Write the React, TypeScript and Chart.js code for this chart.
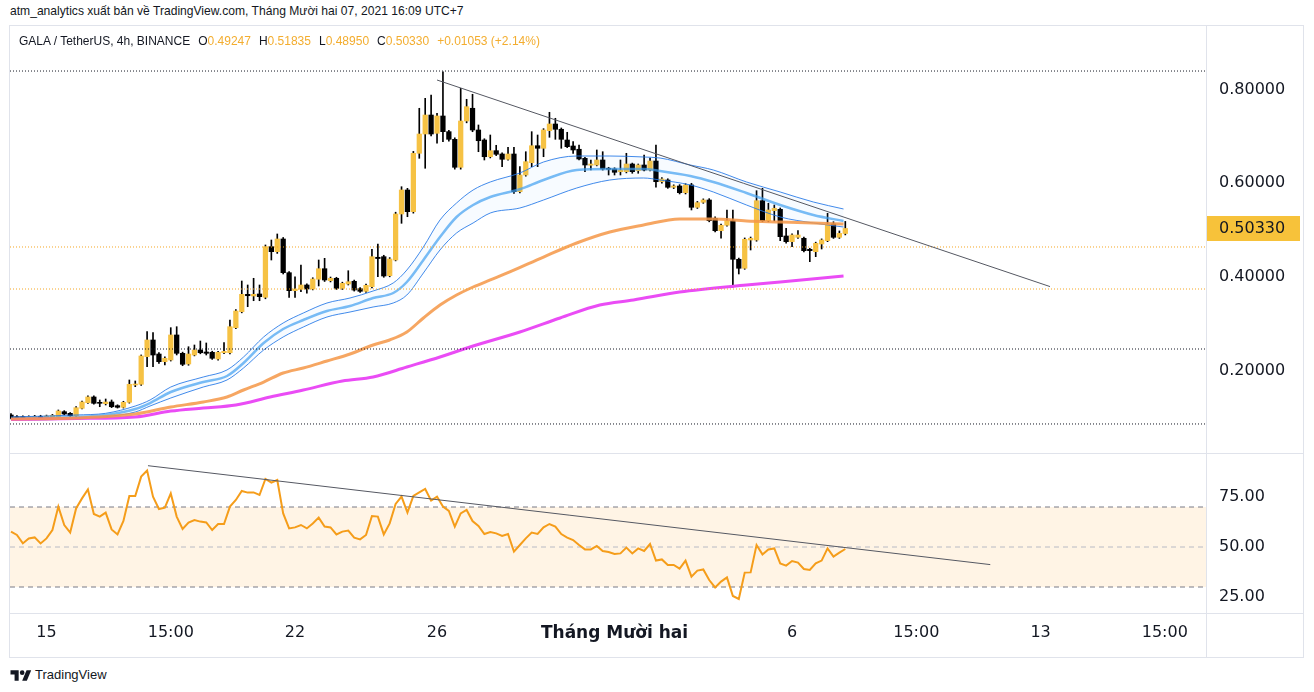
import React, { useEffect, useRef } from "react";
import { Chart, registerables } from "chart.js";
Chart.register(...registerables);

// ---- Candles (4h, GALA/USDT), index 0 = Nov 14 03:00 UTC+7 ----
const opens = [
  0.1047, 0.1011, 0.1011, 0.0968, 0.0989, 0.1011, 0.0983, 0.0983, 0.1011, 0.1118,
  0.1083, 0.1032, 0.1190, 0.1310, 0.1432, 0.1310, 0.1289, 0.1325, 0.1246, 0.1212,
  0.1318, 0.1688, 0.1703, 0.2293, 0.2650, 0.2350, 0.2186, 0.2222, 0.2757, 0.2365,
  0.2137, 0.2329, 0.2436, 0.2393, 0.2387, 0.2244, 0.2378, 0.2378, 0.2912, 0.3254,
  0.3626, 0.3590, 0.3633, 0.3562, 0.4643, 0.4537, 0.4808, 0.4088, 0.3703, 0.3733,
  0.3825, 0.3739, 0.3947, 0.4173, 0.3917, 0.3968, 0.3754, 0.3846, 0.3904, 0.3746,
  0.3690, 0.3789, 0.4417, 0.4430, 0.4024, 0.4359, 0.5342, 0.5855, 0.5391, 0.6639,
  0.7051, 0.7457, 0.7066, 0.7436, 0.7101, 0.6938, 0.6340, 0.7329, 0.7601, 0.7137,
  0.6923, 0.6566, 0.6695, 0.6624, 0.6511, 0.6624, 0.5819, 0.6175, 0.6438, 0.6801,
  0.6746, 0.7122, 0.7265, 0.7152, 0.6923, 0.6795, 0.6725, 0.6532, 0.6383, 0.6389,
  0.6496, 0.6319, 0.6304, 0.6246, 0.6246, 0.6410, 0.6267, 0.6389, 0.6282, 0.6474,
  0.6032, 0.6068, 0.5913, 0.5940, 0.5797, 0.5962, 0.5485, 0.5592, 0.5641, 0.5250,
  0.4985, 0.5101, 0.5199, 0.4374, 0.4182, 0.4786, 0.4786, 0.5626, 0.5199, 0.5413,
  0.5442, 0.4872, 0.4750, 0.4844, 0.4823, 0.4588, 0.4537, 0.4701, 0.4772, 0.5128,
  0.4844, 0.49247,
];
const highs = [
  0.1075, 0.1036, 0.1030, 0.1030, 0.1040, 0.1041, 0.1045, 0.1060, 0.1154, 0.1140,
  0.1100, 0.1225, 0.1345, 0.1459, 0.1455, 0.1368, 0.1389, 0.1368, 0.1265, 0.1340,
  0.1795, 0.1774, 0.2330, 0.2827, 0.2806, 0.2380, 0.2290, 0.2913, 0.2934, 0.2390,
  0.2506, 0.2543, 0.2628, 0.2586, 0.2410, 0.2410, 0.2592, 0.3077, 0.3300, 0.3910,
  0.3825, 0.3968, 0.3825, 0.4680, 0.4786, 0.4915, 0.4840, 0.4110, 0.4002, 0.4252,
  0.3850, 0.3980, 0.4359, 0.4395, 0.3995, 0.3990, 0.3885, 0.4130, 0.3930, 0.3770,
  0.3845, 0.4588, 0.4701, 0.4460, 0.4410, 0.5380, 0.5925, 0.5890, 0.6680, 0.7601,
  0.7814, 0.7885, 0.7494, 0.8380, 0.7130, 0.6970, 0.8028, 0.7793, 0.7900, 0.7244,
  0.6950, 0.7030, 0.6810, 0.6650, 0.6767, 0.6767, 0.6353, 0.6673, 0.7101, 0.7030,
  0.7165, 0.7515, 0.7387, 0.7180, 0.7088, 0.6887, 0.6816, 0.6555, 0.6496, 0.6710,
  0.6673, 0.6340, 0.6330, 0.6496, 0.6639, 0.6430, 0.6410, 0.6603, 0.6539, 0.6816,
  0.6120, 0.6095, 0.5965, 0.5970, 0.5990, 0.5998, 0.5610, 0.5665, 0.5670, 0.5280,
  0.5125, 0.5428, 0.5428, 0.4400, 0.4830, 0.4850, 0.5840, 0.5891, 0.5571, 0.5534,
  0.5470, 0.5036, 0.4920, 0.4985, 0.4850, 0.4610, 0.4740, 0.4810, 0.5357, 0.5177,
  0.4980, 0.51835,
];
const lows = [
  0.0962, 0.0940, 0.0950, 0.0945, 0.0970, 0.0955, 0.0965, 0.0970, 0.0995, 0.1050,
  0.1015, 0.1020, 0.1175, 0.1295, 0.1280, 0.1224, 0.1261, 0.1205, 0.1195, 0.1195,
  0.1300, 0.1652, 0.1680, 0.2079, 0.2079, 0.2150, 0.2115, 0.2200, 0.2330, 0.2100,
  0.2110, 0.2310, 0.2355, 0.2329, 0.2235, 0.2220, 0.2355, 0.2350, 0.2890, 0.3230,
  0.3361, 0.3489, 0.3489, 0.3530, 0.4359, 0.4500, 0.4060, 0.3562, 0.3562, 0.3682,
  0.3648, 0.3720, 0.3804, 0.3900, 0.3890, 0.3730, 0.3730, 0.3825, 0.3695, 0.3665,
  0.3665, 0.3765, 0.4002, 0.3990, 0.4000, 0.4340, 0.5143, 0.5284, 0.5360, 0.6532,
  0.6319, 0.7010, 0.6853, 0.6887, 0.6900, 0.6300, 0.6300, 0.7290, 0.7100, 0.6673,
  0.6496, 0.6540, 0.6590, 0.6353, 0.6490, 0.5784, 0.5790, 0.6150, 0.6353, 0.6353,
  0.6566, 0.6981, 0.6938, 0.6746, 0.6760, 0.6639, 0.6495, 0.6246, 0.6282, 0.6370,
  0.6280, 0.6175, 0.6175, 0.6175, 0.6220, 0.6212, 0.6212, 0.6260, 0.6260, 0.5913,
  0.6000, 0.5890, 0.5885, 0.5770, 0.5770, 0.5428, 0.5460, 0.5570, 0.5175, 0.4960,
  0.4823, 0.5080, 0.3776, 0.4060, 0.4160, 0.4573, 0.4760, 0.5175, 0.5175, 0.5193,
  0.4772, 0.4716, 0.4643, 0.4820, 0.4530, 0.4323, 0.4430, 0.4594, 0.4750, 0.4820,
  0.4820, 0.48950,
];
const closes = [
  0.0989, 0.0968, 0.0977, 0.1011, 0.1019, 0.0977, 0.1026, 0.1041, 0.1133, 0.1068,
  0.1032, 0.1203, 0.1325, 0.1432, 0.1297, 0.1297, 0.1325, 0.1224, 0.1212, 0.1318,
  0.1703, 0.1700, 0.2308, 0.2650, 0.2329, 0.2186, 0.2259, 0.2757, 0.2365, 0.2130,
  0.2350, 0.2436, 0.2378, 0.2365, 0.2259, 0.2387, 0.2408, 0.2934, 0.3269, 0.3626,
  0.3596, 0.3626, 0.3575, 0.4643, 0.4537, 0.4808, 0.4088, 0.3703, 0.3739, 0.3825,
  0.3739, 0.3953, 0.4173, 0.3932, 0.3968, 0.3754, 0.3861, 0.3895, 0.3718, 0.3690,
  0.3818, 0.4430, 0.4390, 0.4017, 0.4380, 0.5342, 0.5855, 0.5391, 0.6639, 0.7051,
  0.7457, 0.7051, 0.7436, 0.7101, 0.6938, 0.6340, 0.7329, 0.7635, 0.7137, 0.6908,
  0.6566, 0.6695, 0.6618, 0.6511, 0.6624, 0.5819, 0.6175, 0.6460, 0.6801, 0.6746,
  0.7137, 0.7265, 0.7152, 0.6938, 0.6780, 0.6710, 0.6517, 0.6389, 0.6410, 0.6496,
  0.6304, 0.6297, 0.6233, 0.6282, 0.6410, 0.6246, 0.6389, 0.6282, 0.6474, 0.6032,
  0.6090, 0.5913, 0.5940, 0.5797, 0.5962, 0.5485, 0.5584, 0.5641, 0.5199, 0.4985,
  0.5101, 0.5199, 0.4374, 0.4182, 0.4801, 0.4823, 0.5626, 0.5199, 0.5428, 0.5464,
  0.4857, 0.4750, 0.4893, 0.4893, 0.4558, 0.4558, 0.4716, 0.4786, 0.5128, 0.4844,
  0.49277, 0.50330,
];

// ---- RSI (one value per candle) ----
const rsiValues = [
  57.7, 56.0, 51.8, 54.3, 54.8, 51.8, 54.3, 58.5, 70.2, 61.0,
  57.2, 69.3, 74.3, 78.8, 66.5, 65.2, 67.2, 58.8, 56.3, 63.0,
  75.5, 75.5, 85.2, 88.2, 75.2, 69.0, 69.7, 76.8, 65.2, 59.0,
  62.2, 63.5, 62.7, 62.3, 58.5, 61.5, 61.5, 70.2, 73.5, 78.0,
  77.2, 77.3, 76.0, 84.0, 82.2, 83.5, 66.8, 59.3, 59.8, 61.0,
  59.3, 61.8, 64.7, 60.2, 59.8, 56.3, 57.7, 58.2, 54.7, 53.8,
  56.0, 65.5, 65.2, 56.3, 61.8, 71.5, 75.2, 67.2, 75.5, 77.3,
  79.0, 73.2, 75.2, 70.2, 68.0, 60.2, 66.8, 68.5, 63.0, 60.5,
  56.5, 57.5, 56.8, 55.5, 56.5, 47.7, 51.0, 54.3, 57.2, 56.5,
  59.8, 61.5, 60.2, 56.5, 54.7, 53.5, 51.0, 48.8, 48.8, 50.5,
  48.0, 47.5, 46.5, 46.8, 49.7, 46.8, 49.3, 48.0, 51.5, 43.2,
  43.8, 41.0, 41.0, 39.2, 43.2, 35.2, 38.2, 38.8, 33.5, 29.8,
  32.7, 34.8, 25.5, 24.0, 37.2, 37.3, 51.0, 46.3, 48.8, 49.3,
  41.8, 40.7, 43.0, 42.2, 39.0, 38.5, 41.8, 43.2, 49.3, 45.2,
  47.2, 49.0,
];

// ---- Blue EMA ribbon (read at these bar indices) ----
const bandIdx = [
  0, 11, 16, 21, 23.5, 27, 32.5, 36.5, 39.3, 42.7,
  46, 49.4, 53.4, 57.3, 61.2, 64.6, 66.9, 69.7, 72.5, 75.3,
  78.1, 81, 86, 90, 95.6, 101.2, 106.9, 109.7, 114.8, 118.7,
  124.3, 130, 135.6, 140.7,
];
const bandUpper = [
  0.1004, 0.1047, 0.1083, 0.1239, 0.1368, 0.1645, 0.1859, 0.2009, 0.2286, 0.2714,
  0.3013, 0.3226, 0.3440, 0.3547, 0.3697, 0.3868, 0.4145, 0.4637, 0.5214, 0.5577,
  0.5855, 0.6026, 0.6218, 0.6453, 0.6581, 0.6581, 0.6560, 0.6538, 0.6389, 0.6282,
  0.6026, 0.5812, 0.5598, 0.5449,
];
const bandMid = [
  0.0972, 0.1004, 0.1047, 0.1175, 0.1303, 0.1538, 0.1752, 0.1880, 0.2158, 0.2585,
  0.2885, 0.3077, 0.3269, 0.3376, 0.3547, 0.3654, 0.3889, 0.4359, 0.4850, 0.5278,
  0.5534, 0.5705, 0.5870, 0.6068, 0.6282, 0.6303, 0.6303, 0.6261, 0.6154, 0.6026,
  0.5791, 0.5534, 0.5321, 0.5192,
];
const bandLower = [
  0.0940, 0.0962, 0.1011, 0.1111, 0.1239, 0.1410, 0.1645, 0.1795, 0.2051, 0.2436,
  0.2714, 0.2927, 0.3141, 0.3248, 0.3355, 0.3440, 0.3611, 0.4081, 0.4573, 0.4936,
  0.5150, 0.5363, 0.5470, 0.5641, 0.5897, 0.6068, 0.6111, 0.6068, 0.5962, 0.5812,
  0.5534, 0.5278, 0.5150, 0.5064,
];

// ---- Orange EMA ----
const emaOrangeIdx = [
  0, 11, 21, 27, 32.5, 36.5, 39.3, 42.7, 46, 49.4,
  53.4, 57.3, 61.2, 64, 66.9, 69.7, 72.5, 75.3, 78.1, 81,
  84.3, 90, 95.6, 101.2, 106.9, 113, 118.7, 124.3, 130, 135.6, 140.7,
];
const emaOrange = [
  0.0962, 0.0983, 0.1068, 0.1218, 0.1325, 0.1432, 0.1581, 0.1752, 0.1944, 0.2051,
  0.2201, 0.2350, 0.2543, 0.2650, 0.2821, 0.3120, 0.3397, 0.3611, 0.3782, 0.3932,
  0.4103, 0.4423, 0.4722, 0.4957, 0.5107, 0.5235, 0.5235, 0.5192, 0.5171, 0.5150, 0.5128,
];

// ---- Magenta EMA ----
const emaMagentaIdx = [
  0, 11, 21, 27, 32.5, 38, 43.8, 49.4, 56, 61.2,
  66.9, 72.5, 78.1, 86, 92.8, 99.5, 105.2, 113, 124.3, 130, 140.7,
];
const emaMagenta = [
  0.0951, 0.0972, 0.1004, 0.1132, 0.1197, 0.1261, 0.1432, 0.1581, 0.1774, 0.1859,
  0.2073, 0.2286, 0.2521, 0.2821, 0.3120, 0.3397, 0.3504, 0.3675, 0.3825, 0.3889, 0.4017,
];

// ---- Drawings ----
const blackLevels = [0.8397, 0.2457, 0.0855];
const orangeLevels = [0.4637, 0.3739];
const priceTrendIdx = [72.0, 175.6];
const priceTrendVals = [0.8205, 0.3791];
const rsiTrendIdx = [23.15, 165.5];
const rsiTrendVals = [90.65, 41.2];
const rsiLevels = [70, 50, 30];

// ---- Axes ----
const priceTicks = [0.2, 0.4, 0.6, 0.8];
const rsiTicks = [25, 50, 75];
const timeTickIdx = [6, 27, 48, 72, 102, 132, 153, 174, 195];
const timeTickLabels = ["15", "15:00", "22", "26", "Tháng Mười hai", "6", "15:00", "13", "15:00"];

const X_MIN = -0.17;
const X_MAX = 201.96;
const P_MIN = 0.0235;
const P_MAX = 0.9359;
const R_MIN = 17;
const R_MAX = 96.5;

const UP = "#f6c244";
const DOWN = "#000000";
const AXIS_FONT = { family: "DejaVu Sans", size: 16 };
const TEXT = "#131722";
const GOLD = "#f3ad2f";
const AXIS_W = 98;

const hLine = (v: number, color: string, dash: number[], order: number, width = 1) => ({
  type: "line" as const,
  data: [{ x: X_MIN, y: v }, { x: X_MAX, y: v }],
  borderColor: color,
  borderWidth: width,
  borderDash: dash,
  pointRadius: 0,
  fill: false,
  order,
});

const series = (idx: number[], vals: number[]) => idx.map((x, i) => ({ x, y: vals[i] }));

const lastPriceTag = {
  id: "lastPriceTag",
  afterDraw(chart: any) {
    const last = closes.length - 1;
    const y = chart.scales.y.getPixelForValue(closes[last]);
    const ctx = chart.ctx;
    const left = chart.chartArea.right;
    ctx.save();
    ctx.fillStyle = "#f7c23a";
    ctx.fillRect(left, Math.round(y) - 12, 94, 25);
    ctx.fillStyle = TEXT;
    ctx.font = `${AXIS_FONT.size}px "${AXIS_FONT.family}"`;
    ctx.textBaseline = "middle";
    ctx.textAlign = "left";
    ctx.fillText(closes[last].toFixed(5), left + 13, Math.round(y) + 1);
    ctx.restore();
  },
};

function priceConfig(): any {
  const idx = opens.map((_, i) => i);
  return {
    type: "bar",
    data: {
      datasets: [
        {
          type: "line",
          data: series(priceTrendIdx, priceTrendVals),
          borderColor: "#555862",
          borderWidth: 1,
          pointRadius: 0,
          order: 0,
        },
        ...blackLevels.map((v) => hLine(v, "#131722", [1, 2], 1)),
        ...orangeLevels.map((v) => hLine(v, "#f5a623", [1, 2], 1)),
        {
          type: "line",
          data: series(bandIdx, bandUpper),
          borderColor: "rgba(33,118,230,0.85)",
          borderWidth: 1,
          pointRadius: 0,
          cubicInterpolationMode: "monotone",
          fill: "+2",
          backgroundColor: "rgba(33,150,243,0.035)",
          order: 3,
        },
        {
          type: "line",
          data: series(bandIdx, bandMid),
          borderColor: "rgba(66,160,240,0.7)",
          borderWidth: 2.5,
          pointRadius: 0,
          cubicInterpolationMode: "monotone",
          fill: false,
          order: 3,
        },
        {
          type: "line",
          data: series(bandIdx, bandLower),
          borderColor: "rgba(33,118,230,0.85)",
          borderWidth: 1,
          pointRadius: 0,
          cubicInterpolationMode: "monotone",
          fill: false,
          order: 3,
        },
        {
          type: "line",
          data: series(emaOrangeIdx, emaOrange),
          borderColor: "rgba(245,150,70,0.85)",
          borderWidth: 3,
          pointRadius: 0,
          cubicInterpolationMode: "monotone",
          fill: false,
          order: 2,
        },
        {
          type: "line",
          data: series(emaMagentaIdx, emaMagenta),
          borderColor: "#ea4cf5",
          borderWidth: 3,
          pointRadius: 0,
          cubicInterpolationMode: "monotone",
          fill: false,
          order: 2,
        },
        {
          type: "bar",
          data: idx.map((i) => ({ x: i, y: [opens[i], closes[i]] })),
          backgroundColor: idx.map((i) => (closes[i] >= opens[i] ? UP : DOWN)),
          barThickness: 4.6,
          minBarLength: 1,
          grouped: false,
          borderWidth: 0,
          order: 10,
        },
        {
          type: "bar",
          data: idx.map((i) => ({ x: i, y: [lows[i], highs[i]] })),
          backgroundColor: "#000000",
          barThickness: 1,
          grouped: false,
          borderWidth: 0,
          order: 11,
        },
      ],
    },
    options: {
      responsive: false,
      animation: false,
      events: [],
      devicePixelRatio: 1,
      layout: { padding: 0 },
      plugins: { legend: { display: false }, tooltip: { enabled: false } },
      scales: {
        x: {
          type: "linear",
          min: X_MIN,
          max: X_MAX,
          offset: false,
          bounds: "data",
          display: false,
        },
        y: {
          type: "linear",
          position: "right",
          min: P_MIN,
          max: P_MAX,
          bounds: "data",
          grid: { display: false, drawTicks: false },
          border: { display: false },
          afterBuildTicks: (s: any) => {
            s.ticks = priceTicks.map((v) => ({ value: v }));
          },
          afterFit: (s: any) => {
            s.width = AXIS_W;
            s.paddingTop = 0;
            s.paddingBottom = 0;
          },
          ticks: {
            padding: 13,
            color: TEXT,
            font: AXIS_FONT,
            callback: (v: any) => Number(v).toFixed(5),
          },
        },
      },
    },
    plugins: [lastPriceTag],
  };
}

function rsiConfig(): any {
  return {
    type: "line",
    data: {
      datasets: [
        {
          data: series(rsiTrendIdx, rsiTrendVals),
          borderColor: "#555862",
          borderWidth: 1,
          pointRadius: 0,
          fill: false,
          order: 0,
        },
        {
          data: rsiValues.map((v, i) => ({ x: i, y: v })),
          borderColor: "#f59d1a",
          borderWidth: 2,
          pointRadius: 0,
          fill: false,
          order: 1,
        },
        ...rsiLevels.map((v) => hLine(v, v === 50 ? "#b8bbc4" : "#787b86", [5, 4], 5)),
        {
          data: [{ x: X_MIN, y: rsiLevels[0] }, { x: X_MAX, y: rsiLevels[0] }],
          borderWidth: 0,
          pointRadius: 0,
          fill: { value: rsiLevels[2] },
          backgroundColor: "rgba(255,152,0,0.1)",
          order: 20,
        },
      ],
    },
    options: {
      responsive: false,
      animation: false,
      events: [],
      devicePixelRatio: 1,
      layout: { padding: 0 },
      plugins: { legend: { display: false }, tooltip: { enabled: false } },
      scales: {
        x: {
          type: "linear",
          min: X_MIN,
          max: X_MAX,
          offset: false,
          bounds: "data",
          grid: { display: false, drawTicks: false },
          border: { display: false },
          afterBuildTicks: (s: any) => {
            s.ticks = timeTickIdx.map((v) => ({ value: v }));
          },
          afterFit: (s: any) => {
            s.height = 44;
            s.paddingLeft = 0;
            s.paddingRight = 0;
          },
          ticks: {
            autoSkip: false,
            maxRotation: 0,
            padding: 10,
            color: TEXT,
            font: (c: any) => ({
              family: AXIS_FONT.family,
              size: c.index === 4 ? 17 : AXIS_FONT.size,
              weight: c.index === 4 ? "bold" : "normal",
            }),
            callback: (_v: any, i: number) => timeTickLabels[i],
          },
        },
        y: {
          type: "linear",
          position: "right",
          min: R_MIN,
          max: R_MAX,
          bounds: "data",
          grid: { display: false, drawTicks: false },
          border: { display: false },
          afterBuildTicks: (s: any) => {
            s.ticks = rsiTicks.map((v) => ({ value: v }));
          },
          afterFit: (s: any) => {
            s.width = AXIS_W;
            s.paddingTop = 0;
            s.paddingBottom = 0;
          },
          ticks: {
            padding: 13,
            color: TEXT,
            font: AXIS_FONT,
            callback: (v: any) => Number(v).toFixed(2),
          },
        },
      },
    },
  };
}

const LINE = "#e0e3eb";

export default function App() {
  const priceRef = useRef<HTMLCanvasElement>(null);
  const rsiRef = useRef<HTMLCanvasElement>(null);

  useEffect(() => {
    const pc = new Chart(priceRef.current as HTMLCanvasElement, priceConfig());
    const rc = new Chart(rsiRef.current as HTMLCanvasElement, rsiConfig());
    return () => {
      pc.destroy();
      rc.destroy();
    };
  }, []);

  const last = closes.length - 1;
  const change = closes[last] - closes[last - 1];
  const pct = (change / closes[last - 1]) * 100;
  const ohlc: [string, number][] = [
    ["O", opens[last]],
    ["H", highs[last]],
    ["L", lows[last]],
    ["C", closes[last]],
  ];

  const uiFont = '"Liberation Sans", Arial, sans-serif';

  return (
    <div
      style={{
        position: "absolute",
        left: 0,
        top: 0,
        width: 1314,
        height: 692,
        background: "#ffffff",
        overflow: "hidden",
        fontFamily: uiFont,
      }}
    >
      <div
        style={{
          position: "absolute",
          left: 10,
          top: 4,
          fontSize: 12.1,
          color: "#131722",
          whiteSpace: "nowrap",
        }}
      >
        atm_analytics xuất bản về TradingView.com, Tháng Mười hai 07, 2021 16:09 UTC+7
      </div>

      <canvas
        ref={priceRef}
        width={1294}
        height={427}
        style={{ position: "absolute", left: 10, top: 26, width: 1294, height: 427 }}
      />
      <canvas
        ref={rsiRef}
        width={1294}
        height={203}
        style={{ position: "absolute", left: 10, top: 454, width: 1294, height: 203 }}
      />

      <div
        style={{
          position: "absolute",
          left: 19,
          top: 34,
          fontSize: 12,
          color: "#131722",
          whiteSpace: "nowrap",
        }}
      >
        <span>GALA / TetherUS, 4h, BINANCE</span>
        {ohlc.map(([k, v]) => (
          <span key={k} style={{ marginLeft: 8 }}>
            {k}
            <span style={{ color: GOLD }}>{v.toFixed(5)}</span>
          </span>
        ))}
        <span style={{ marginLeft: 8, color: GOLD }}>
          {(change >= 0 ? "+" : "") + change.toFixed(5)} ({(pct >= 0 ? "+" : "") + pct.toFixed(2)}%)
        </span>
      </div>

      {/* frame and separators */}
      <div
        style={{
          position: "absolute",
          left: 9,
          top: 25,
          width: 1295,
          height: 633,
          border: `1px solid ${LINE}`,
          boxSizing: "border-box",
          pointerEvents: "none",
        }}
      />
      <div style={{ position: "absolute", left: 10, top: 453, width: 1293, height: 1, background: LINE }} />
      <div style={{ position: "absolute", left: 10, top: 613, width: 1293, height: 1, background: LINE }} />
      <div style={{ position: "absolute", left: 1206, top: 26, width: 1, height: 631, background: LINE }} />

      {/* logo */}
      <div
        style={{
          position: "absolute",
          left: 10,
          top: 667,
          display: "flex",
          alignItems: "center",
          color: "#131722",
          fontSize: 13,
        }}
      >
        <svg width="22" height="14" viewBox="0 0 36 24" style={{ marginRight: 3 }}>
          <path d="M14 22H7V11H0V4h14v18z" fill="#131722" />
          <circle cx="20" cy="8" r="4" fill="#131722" />
          <path d="M28 22h-8l7.5-18h8L28 22z" fill="#131722" />
        </svg>
        <span>TradingView</span>
      </div>
    </div>
  );
}
